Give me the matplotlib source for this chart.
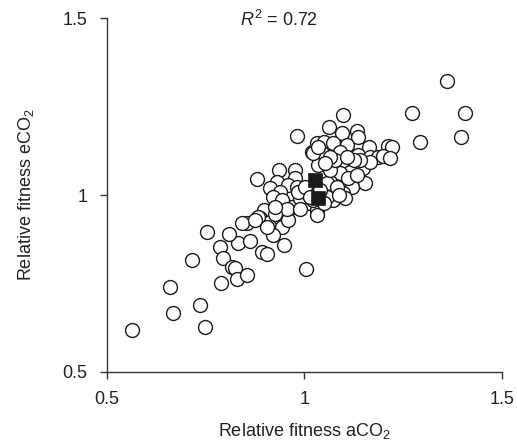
import matplotlib
matplotlib.use("Agg")
import matplotlib.pyplot as plt

plt.rcParams['font.family'] = ['Liberation Sans', 'DejaVu Sans']
plt.rcParams['mathtext.fontset'] = 'custom'
plt.rcParams['mathtext.it'] = 'Liberation Sans:italic'
plt.rcParams['mathtext.rm'] = 'Liberation Sans'

# Relative fitness of genotypes (circles)
fit_aco2 = [1.361, 1.272, 1.407, 1.292, 1.396, 1.097, 0.981, 1.064, 1.095, 1.133,
            1.137, 1.032, 1.049, 1.074, 1.108, 1.163, 1.213, 1.223, 1.019, 1.044,
            1.095, 1.137, 1.167, 1.188, 1.200, 1.217, 1.036, 1.078, 1.103, 1.125,
            1.150, 1.116, 1.091, 1.065, 1.154, 1.120, 1.099, 1.103, 1.065, 1.074,
            0.881, 0.935, 0.977, 0.930, 0.977, 0.960, 0.914, 0.939, 0.981, 0.922,
            0.952, 0.968, 1.011, 0.989, 1.057, 1.065, 1.057, 1.032, 1.032, 0.909,
            0.897, 0.888, 0.914, 0.939, 0.943, 0.960, 0.922, 0.950, 0.854, 0.842,
            0.833, 0.863, 0.892, 0.905, 0.810, 0.787, 0.753, 0.717, 0.795, 0.817,
            0.825, 0.789, 0.829, 0.854, 1.005, 0.660, 0.667, 0.735, 0.749, 0.565,
            1.006, 1.023, 1.040, 1.082, 1.112, 1.133, 1.167, 1.023, 1.036, 1.091,
            1.078, 0.943, 0.956, 0.884, 0.876, 0.905, 0.926, 0.985, 1.002, 1.015,
            1.049, 0.989, 0.926, 1.141, 1.125, 1.108, 1.065, 1.053, 1.087]
fit_eco2 = [1.323, 1.231, 1.233, 1.151, 1.164, 1.227, 1.168, 1.194, 1.175, 1.180,
            1.164, 1.147, 1.151, 1.147, 1.142, 1.137, 1.140, 1.135, 1.123, 1.118,
            1.104, 1.114, 1.109, 1.109, 1.111, 1.104, 1.085, 1.082, 1.087, 1.076,
            1.076, 1.066, 1.062, 1.038, 1.033, 1.024, 1.005, 0.993, 1.000, 0.986,
            1.045, 1.071, 1.071, 1.038, 1.048, 1.029, 1.019, 1.010, 1.024, 0.996,
            0.972, 0.967, 0.977, 0.991, 1.033, 1.071, 0.996, 0.958, 0.944, 0.953,
            0.958, 0.934, 0.925, 0.934, 0.911, 0.930, 0.887, 0.859, 0.920, 0.920,
            0.864, 0.869, 0.840, 0.833, 0.889, 0.854, 0.895, 0.817, 0.821, 0.798,
            0.793, 0.751, 0.762, 0.774, 0.790, 0.741, 0.668, 0.689, 0.628, 0.619,
            1.005, 0.986, 1.015, 1.024, 1.048, 1.057, 1.095, 1.118, 1.137, 1.123,
            1.099, 0.986, 0.962, 0.939, 0.930, 0.911, 0.948, 1.010, 1.024, 0.996,
            0.977, 0.962, 0.967, 1.099, 1.099, 1.109, 1.109, 1.090, 1.000]

# Highlighted genotypes (black squares)
sq_aco2 = [1.027, 1.036]
sq_eco2 = [1.043, 0.991]

r2_text = r"$R^2$ = 0.72"
xticks = [0.5, 1.0, 1.5]
xticklabels = ["0.5", "1", "1.5"]
yticks = [0.5, 1.0, 1.5]
yticklabels = ["0.5", "1", "1.5"]

W, H = 517, 442
fig = plt.figure(figsize=(W / 100, H / 100), dpi=100)
ax = fig.add_axes([106.7 / W, (H - 372) / H, (501.7 - 106.7) / W, (372 - 18.3) / H])

ax.scatter(fit_aco2, fit_eco2, s=100, facecolor='white', edgecolor='#1a1a1a',
           linewidths=1.0, clip_on=False, zorder=3)
ax.scatter(sq_aco2, sq_eco2, s=110, marker='s', facecolor='#1a1a1a',
           edgecolor='#1a1a1a', linewidths=0.5, clip_on=False, zorder=4)

ax.set_xlim(0.5, 1.5)
ax.set_ylim(0.5, 1.5)
ax.set_xticks(xticks)
ax.set_xticklabels(xticklabels)
ax.set_yticks(yticks)
ax.set_yticklabels(yticklabels)
for s in ['top', 'right']:
    ax.spines[s].set_visible(False)
for s in ['left', 'bottom']:
    ax.spines[s].set_color('#333333')
    ax.spines[s].set_linewidth(1.0)
ax.tick_params(direction='out', length=5.3, width=1.0, color='#333333',
               labelsize=13, pad=8.5, labelcolor='#222222')

ax.set_xlabel("Relative fitness aCO$_2$", fontsize=13, color='#222222', labelpad=9)
ax.set_ylabel("Relative fitness eCO$_2$", fontsize=13, color='#222222', labelpad=19)

fig.text(279 / W, 1 - 20 / H, r2_text, ha='center', va='center', fontsize=13,
         color='#222222')

fig.savefig("out.png", dpi=100)
